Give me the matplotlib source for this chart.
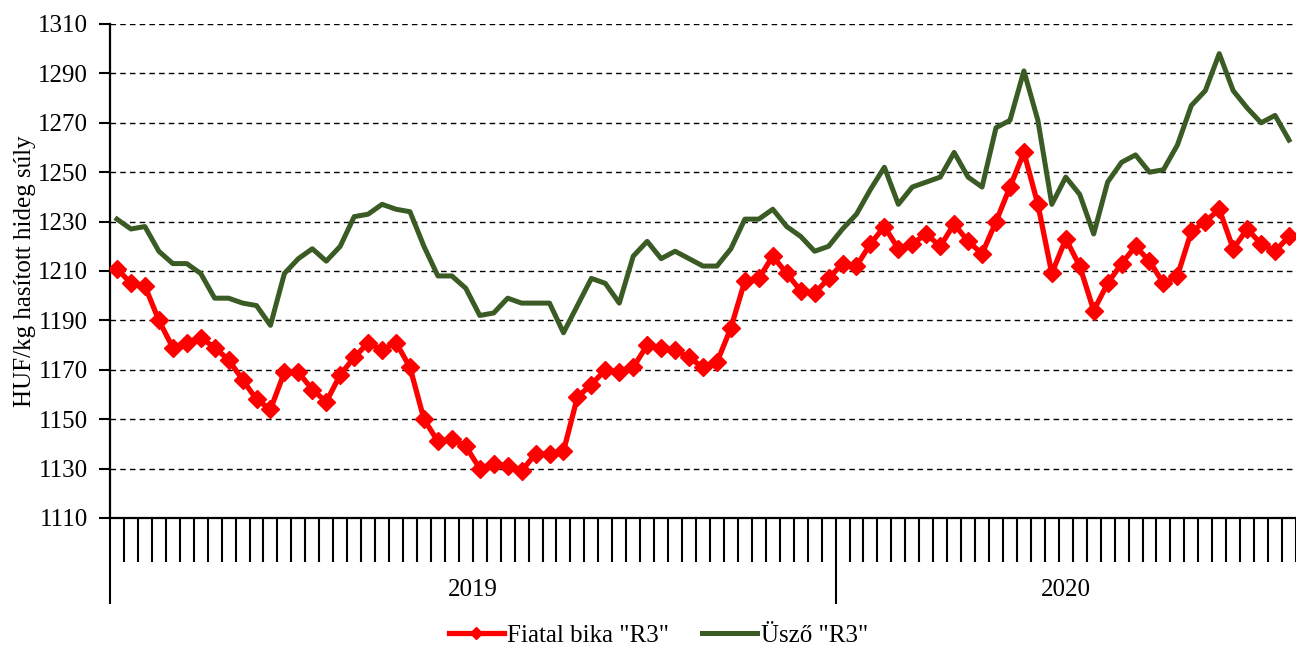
import numpy as np
import matplotlib
matplotlib.use('Agg')
import matplotlib.pyplot as plt
import matplotlib.transforms as mtransforms

plt.rcParams['font.family'] = ['Liberation Serif', 'DejaVu Serif']

# --- Data (weekly prices, HUF/kg) ---
years = ['2019', '2020']
weeks_per_year = [52, 33]

bika_r3 = [1211, 1205, 1204, 1190, 1179, 1181, 1183, 1179, 1174, 1166,
           1158, 1154, 1169, 1169, 1162, 1157, 1168, 1175, 1181, 1178,
           1181, 1171, 1150, 1141, 1142, 1139, 1130, 1132, 1131, 1129,
           1136, 1136, 1137, 1159, 1164, 1170, 1169, 1171, 1180, 1179,
           1178, 1175, 1171, 1173, 1187, 1206, 1207, 1216, 1209, 1202,
           1201, 1207, 1213, 1212, 1221, 1228, 1219, 1221, 1225, 1220,
           1229, 1222, 1217, 1230, 1244, 1258, 1237, 1209, 1223, 1212,
           1194, 1205, 1213, 1220, 1214, 1205, 1208, 1226, 1230, 1235,
           1219, 1227, 1221, 1218, 1224]

uszo_r3 = [1231, 1227, 1228, 1218, 1213, 1213, 1209, 1199, 1199, 1197,
           1196, 1188, 1209, 1215, 1219, 1214, 1220, 1232, 1233, 1237,
           1235, 1234, 1220, 1208, 1208, 1203, 1192, 1193, 1199, 1197,
           1197, 1197, 1185, 1196, 1207, 1205, 1197, 1216, 1222, 1215,
           1218, 1215, 1212, 1212, 1219, 1231, 1231, 1235, 1228, 1224,
           1218, 1220, 1227, 1233, 1243, 1252, 1237, 1244, 1246, 1248,
           1258, 1248, 1244, 1268, 1271, 1291, 1271, 1237, 1248, 1241,
           1225, 1246, 1254, 1257, 1250, 1251, 1261, 1277, 1283, 1298,
           1283, 1276, 1270, 1273, 1263]

x = np.arange(len(bika_r3))

fig = plt.figure(figsize=(12.96, 6.51), dpi=100)
ax = fig.add_axes([110 / 1296, 133 / 651, 1186 / 1296, 494 / 651])

ax.plot(x, bika_r3, color='#FF0000', lw=3.8, marker='D', ms=9.5,
        label='Fiatal bika "R3"', zorder=3)
ax.plot(x, uszo_r3, color='#3B5B25', lw=3.6, label='Üsző "R3"', zorder=2)

ax.set_xlim(-0.5, 84.1)
ax.set_ylim(1110, 1310)
ax.set_yticks(np.arange(1110, 1311, 20))
ax.yaxis.grid(True, color='black', ls=(0, (4, 3)), lw=1)
ax.set_axisbelow(True)
ax.tick_params(axis='y', labelsize=18, length=8, width=1.5, pad=8, direction='out')

for s in ['top', 'right']:
    ax.spines[s].set_visible(False)
ax.spines['left'].set_linewidth(1.6)
ax.spines['bottom'].set_linewidth(1.6)

# category ticks between weeks, long ticks at year boundaries
bounds = np.cumsum([0] + weeks_per_year) - 0.5
ax.set_xticks(bounds[:-1])
ax.set_xticklabels([])
ax.set_xticks(np.arange(0.5, len(x), 1.0), minor=True)
ax.tick_params(axis='x', which='major', length=62, width=1.5, direction='out')
ax.tick_params(axis='x', which='minor', length=32, width=1.5, direction='out')

trans = mtransforms.blended_transform_factory(ax.transData, ax.transAxes)
for i, yr in enumerate(years):
    mid = (bounds[i] + bounds[i + 1]) / 2
    ax.text(mid, -0.146, yr, transform=trans, ha='center', va='center', fontsize=18)

ax.set_ylabel('HUF/kg hasított hideg súly', fontsize=18, labelpad=1)

fig.legend(loc='center', bbox_to_anchor=(0.508, 0.024), ncol=2, frameon=False,
           fontsize=18, handlelength=2.2, handletextpad=0.15, columnspacing=1.3,
           markerscale=0.6)

fig.savefig('out.png', dpi=100)
